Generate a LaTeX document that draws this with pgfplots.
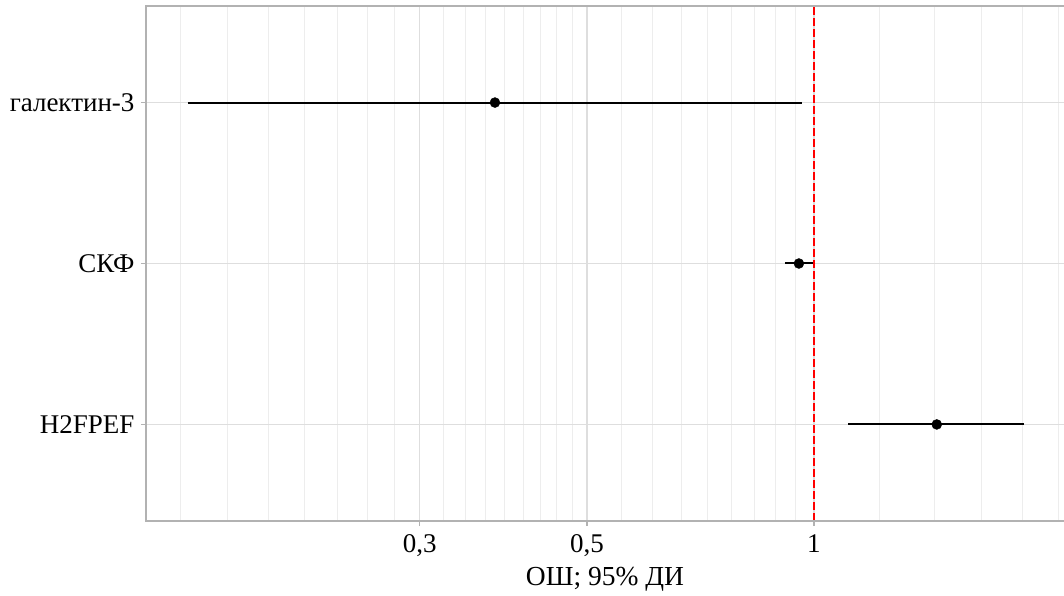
\documentclass[border=0pt]{standalone}
\usepackage{pgfplots}
\pgfplotsset{compat=1.18}
\usepackage{fontspec}
\setmainfont{Liberation Serif}
\definecolor{border}{gray}{0.70}
\definecolor{gmaj}{gray}{0.87}
\definecolor{gmin}{gray}{0.93}
\begin{document}
\begin{tikzpicture}[x=1pt,y=1pt]
\begin{axis}[
  name=ax,
  scale only axis,
  width=918pt, height=515pt,
  xmode=log,
  xmin=0.13003, xmax=2.1458,
  ymin=0.4, ymax=3.6,
  ytick={1,2,3},
  yticklabels={H2FPEF,СКФ,галектин-3},
  xtick={0.3,0.5,1},
  xticklabels={{0,3},{0,5},1},
  minor xtick={0.1444,0.1667,0.1889,0.2111,0.2333,0.2556,0.2778,
    0.3222,0.3444,0.3667,0.3889,0.4111,0.4333,0.4556,0.4778,
    0.5556,0.6111,0.6667,0.7222,0.7778,0.8333,0.8889,0.9444,
    1.2222,1.4444,1.6667,1.8889,2.1111},
  minor tick length=0pt,
  major tick length=5pt,
  tick align=outside,
  tick style={border, line width=1.2pt},
  xtick pos=bottom, ytick pos=left,
  grid=both,
  major grid style={gmaj, line width=1.1pt},
  minor grid style={gmin, line width=0.8pt},
  axis line style={draw=none},
  ticklabel style={font=\fontsize{27}{27}\selectfont, text=black},
  yticklabel style={xshift=-3pt},
  xticklabel style={yshift=-5pt},
  xlabel={ОШ; 95\% ДИ},
  xlabel style={font=\fontsize{27.5}{27.5}\selectfont, yshift=-4pt},
  clip=false,
]
\addplot[black, line width=2pt] coordinates {(0.1478,3) (0.964,3)};
\addplot[black, line width=2pt] coordinates {(0.915,2) (0.998,2)};
\addplot[black, line width=2pt] coordinates {(1.11,1) (1.90,1)};
\addplot[only marks, mark=*, mark size=5pt, black] coordinates {(0.3775,3) (0.955,2) (1.455,1)};
\addplot[red, line width=2pt, dash pattern=on 7.5pt off 3.5pt] coordinates {(1,0.4) (1,3.6)};
\draw[border, line width=2pt] (rel axis cs:1,1) -- (rel axis cs:0,1) -- (rel axis cs:0,0) -- (rel axis cs:1,0);
\end{axis}
\pgfresetboundingbox
\useasboundingbox ([shift={(-146pt,-75pt)}]ax.south west) rectangle ([shift={(0pt,6pt)}]ax.north east);
\end{tikzpicture}
\end{document}
